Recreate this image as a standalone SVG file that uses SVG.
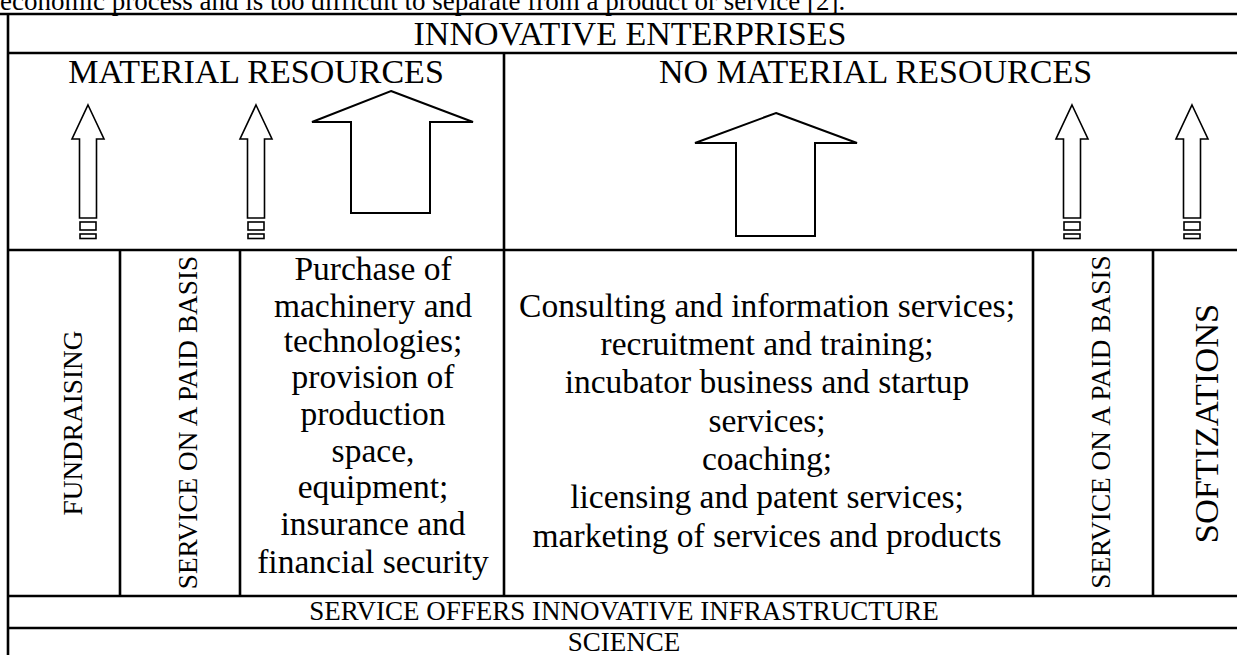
<svg xmlns="http://www.w3.org/2000/svg" width="1237" height="655" viewBox="0 0 1237 655">
<style>
text{font-family:"Liberation Serif","Times New Roman",serif;fill:#000}
.h{font-size:34px;text-anchor:middle}
.b{font-size:33.5px;text-anchor:middle}
.v{font-size:27.3px;text-anchor:middle}
.grid{stroke:#000;stroke-width:2.6;fill:none}
.arr{stroke:#000;stroke-width:2;fill:#fff;stroke-linejoin:miter}
.sm{stroke:#000;stroke-width:1.6;fill:#fff}
</style>
<defs>
<g id="smallArrow">
<path class="sm" d="M0,0 L16,34 L8.5,34 L8.5,113 L-8.5,113 L-8.5,34 L-16,34 Z"/>
<rect class="sm" x="-8" y="117" width="16" height="8"/>
<rect class="sm" x="-8" y="129" width="16" height="4.5"/>
</g>
</defs>
<text x="0" y="10" style="font-size:27px">economic process and is too difficult to separate from a product or service [2].</text>
<g id="connectors">
<path class="grid" d="M0,14 H1237 M8,14 V655 M8,53 H1237 M504,53 V596 M8,250 H1237 M120,250 V596 M240,250 V596 M1033,250 V596 M1153,250 V596 M8,596 H1237 M8,628 H1237"/>
</g>
<g id="innovative-enterprises"><text class="h" x="630" y="45">INNOVATIVE ENTERPRISES</text></g>
<g id="material-resources"><text class="h" x="256" y="83">MATERIAL RESOURCES</text></g>
<g id="no-material-resources"><text class="h" x="875.5" y="83">NO MATERIAL RESOURCES</text></g>
<g id="arrow-1"><use href="#smallArrow" x="88" y="105"/></g>
<g id="arrow-2"><use href="#smallArrow" x="256" y="105"/></g>
<g id="arrow-big-left"><path class="arr" d="M391,91 L473,122 L430,122 L430,213 L351,213 L351,122 L312,122 Z"/></g>
<g id="arrow-big-right"><path class="arr" d="M776,113 L857,143 L815,143 L815,236 L736,236 L736,143 L695,143 Z"/></g>
<g id="arrow-3"><use href="#smallArrow" x="1072" y="105"/></g>
<g id="arrow-4"><use href="#smallArrow" x="1192" y="105"/></g>
<g id="fundraising"><text class="v" transform="translate(82,423) rotate(-90)">FUNDRAISING</text></g>
<g id="paid-left"><text class="v" transform="translate(197,422.5) rotate(-90)">SERVICE ON A PAID BASIS</text></g>
<g id="purchase">
<text class="b" x="373" y="280">Purchase of</text>
<text class="b" x="373" y="317">machinery and</text>
<text class="b" x="373" y="352">technologies;</text>
<text class="b" x="373" y="388">provision of</text>
<text class="b" x="373" y="425">production</text>
<text class="b" x="373" y="462">space,</text>
<text class="b" x="373" y="498">equipment;</text>
<text class="b" x="373" y="535">insurance and</text>
<text class="b" x="373" y="573">financial security</text>
</g>
<g id="services">
<text class="b" x="767" y="317">Consulting and information services;</text>
<text class="b" x="767" y="355">recruitment and training;</text>
<text class="b" x="767" y="393">incubator business and startup</text>
<text class="b" x="767" y="432">services;</text>
<text class="b" x="767" y="470">coaching;</text>
<text class="b" x="767" y="508">licensing and patent services;</text>
<text class="b" x="767" y="547">marketing of services and products</text>
</g>
<g id="paid-right"><text class="v" transform="translate(1110,422) rotate(-90)">SERVICE ON A PAID BASIS</text></g>
<g id="softizations"><text class="h" style="font-size:34.5px" transform="translate(1218,423.5) rotate(-90)">SOFTIZATIONS</text></g>
<g id="infrastructure"><text class="v" style="font-size:27px" x="624" y="620">SERVICE OFFERS INNOVATIVE INFRASTRUCTURE</text></g>
<g id="science"><text class="v" style="font-size:27px" x="624" y="651">SCIENCE</text></g>
</svg>
